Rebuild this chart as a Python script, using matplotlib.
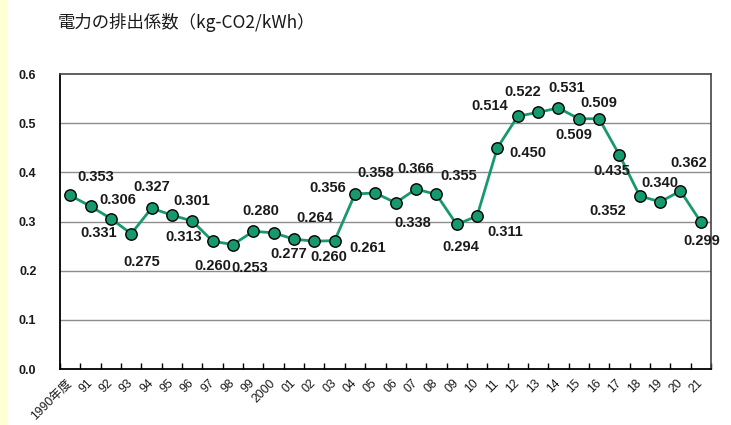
import matplotlib
matplotlib.use("Agg")
import matplotlib.pyplot as plt
from matplotlib.patches import Rectangle
import numpy as np

# ---- data ----
years = ["1990年度", "91", "92", "93", "94", "95", "96", "97", "98", "99",
         "2000", "01", "02", "03", "04", "05", "06", "07", "08", "09",
         "10", "11", "12", "13", "14", "15", "16", "17", "18", "19", "20", "21"]
factors = [0.353, 0.331, 0.306, 0.275, 0.327, 0.313, 0.301, 0.260, 0.253, 0.280,
           0.277, 0.264, 0.260, 0.261, 0.356, 0.358, 0.338, 0.366, 0.355, 0.294,
           0.311, 0.450, 0.514, 0.522, 0.531, 0.509, 0.509, 0.435, 0.352, 0.340,
           0.362, 0.299]
yticks = [0.0, 0.1, 0.2, 0.3, 0.4, 0.5, 0.6]
title = "電力の排出係数（kg-CO2/kWh）"

# label offsets (pixels, dx, dy with +dy upward) - style only
label_offsets = [(26, 18), (8, -27), (7, 19), (11, -28), (0, 21), (12, -22), (0, 20),
                 (0, -25), (17, -23), (8, 20), (15, -21), (21, 21), (15, -16),
                 (33, -7), (-27, 6), (0, 20), (17, -20), (0, 20), (22, 18),
                 (4, -23), (28, -16), (30, -5), (-28, 10), (-15, 20), (8, 20),
                 (-5, -16), (0, 16), (-8, -16), (-32, -15), (0, 19), (8, 28),
                 (1, -19)]

W, H = 731, 425
fig = plt.figure(figsize=(W / 100, H / 100), dpi=100)
fig.patch.set_facecolor("white")

# yellow strip at the left edge
fig.patches.append(Rectangle((0, 0), 8 / W, 1, transform=fig.transFigure,
                             facecolor="#FFFFD4", edgecolor="none", zorder=0))

ax = fig.add_axes([60 / W, 1 - 369 / H, 651 / W, 295 / H])

x = np.arange(len(factors))
green = "#17996F"
ax.plot(x, factors, color=green, lw=2.0, zorder=3)
ax.plot(x, factors, ls="none", marker="o", ms=8.2, mfc=green, mec="black",
        mew=1.0, zorder=4)

for xi, v, (dx, dy) in zip(x, factors, label_offsets):
    ax.annotate(f"{v:.3f}", (xi, v), xytext=(dx, dy), textcoords="offset pixels",
                ha="center", va="center", fontsize=10.5, fontweight="bold",
                family="Liberation Sans", color="#1a1a1a", zorder=5)

ax.set_xlim(-0.5, len(factors) - 0.5)
ax.set_ylim(0, 0.6)
ax.set_yticks(yticks)
ax.set_yticklabels([f"{t:.1f}" for t in yticks], fontsize=9, fontweight="bold",
                   family="Liberation Sans", color="#1a1a1a")
ax.tick_params(axis="y", length=0, pad=17)

for t in yticks[1:-1]:
    ax.axhline(t, color="#8c8c8c", lw=1.0, zorder=1)

# category boundary ticks (inside)
ax.set_xticks(np.arange(-0.5, len(factors) + 0.5, 1.0), minor=True)
ax.tick_params(axis="x", which="minor", direction="in", length=4, width=1,
               color="black")
ax.set_xticks(x)
ax.set_xticklabels(years, rotation=45, ha="right", va="center",
                   rotation_mode="anchor", fontsize=8.8,
                   family=["Liberation Sans", "Noto Sans CJK JP"], color="#1a1a1a")
ax.tick_params(axis="x", which="major", length=0, pad=9)

for side in ["left", "bottom"]:
    ax.spines[side].set_color("black")
    ax.spines[side].set_linewidth(1.3)
for side in ["top", "right"]:
    ax.spines[side].set_color("#444444")
    ax.spines[side].set_linewidth(1.2)

fig.text(58 / W, 1 - 22 / H, title, ha="left", va="center", fontsize=12.5,
         family=["Noto Sans CJK JP", "DejaVu Sans"], color="#1a1a1a")

fig.savefig("out.png", dpi=100)
